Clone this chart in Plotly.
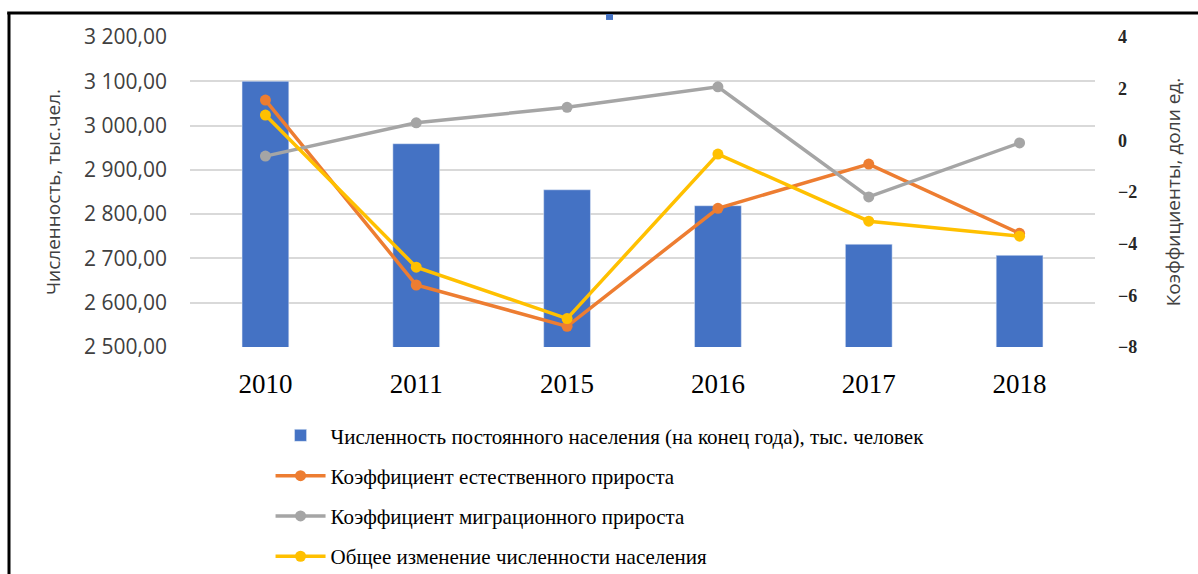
import plotly.graph_objects as go

years = ["2010", "2011", "2015", "2016", "2017", "2018"]
population = [3100, 2959, 2855, 2819, 2732, 2707]
natural = [1.56, -5.6, -7.2, -2.63, -0.92, -3.6]
migration = [-0.61, 0.68, 1.28, 2.07, -2.19, -0.1]
total = [0.98, -4.91, -6.9, -0.53, -3.13, -3.71]

names = [
    "Численность постоянного населения (на конец года), тыс. человек",
    "Коэффициент естественного прироста",
    "Коэффициент миграционного прироста",
    "Общее изменение численности населения",
]

fig = go.Figure()
fig.add_trace(go.Bar(x=years, y=population, name=names[0], marker_color="#4472C4",
                     width=0.31, legendgroup="a"))
fig.add_trace(go.Scatter(x=years, y=natural, name=names[1], yaxis="y2", mode="lines+markers",
                         line=dict(color="#ED7D31", width=3.5), marker=dict(size=11), legendgroup="b"))
fig.add_trace(go.Scatter(x=years, y=migration, name=names[2], yaxis="y2", mode="lines+markers",
                         line=dict(color="#A5A5A5", width=3.5), marker=dict(size=11), legendgroup="c"))
fig.add_trace(go.Scatter(x=years, y=total, name=names[3], yaxis="y2", mode="lines+markers",
                         line=dict(color="#FFC000", width=3.5), marker=dict(size=11), legendgroup="d"))

fig.update_layout(
    width=1198, height=574,
    margin=dict(l=190, r=103, t=37, b=227, autoexpand=False),
    paper_bgcolor="white", plot_bgcolor="white",
    separators=", ",
    showlegend=True,
    legend=dict(orientation="v", x=0.089, y=-0.22, xanchor="left", yanchor="top",
                font=dict(family="Liberation Serif", size=21, color="black"),
                tracegroupgap=10, itemwidth=50, traceorder="grouped"),
    xaxis=dict(type="category", showgrid=False, showline=False, zeroline=False,
               tickfont=dict(family="Liberation Serif", size=27, color="black"),
               ticklabelstandoff=18),
    yaxis=dict(range=[2500, 3200], dtick=100, tickformat=",.2f",
               showgrid=True, gridcolor="#d9d9d9", gridwidth=1.5, zeroline=False,
               tickfont=dict(family="Open Sans", size=21, color="#404040"),
               ticklabelstandoff=22,
               title=dict(text="Численность, тыс.чел.", standoff=18,
                          font=dict(family="Open Sans", size=19, color="#404040"))),
    yaxis2=dict(range=[-8, 4], dtick=2, overlaying="y", side="right",
                showgrid=False, zeroline=False,
                tickfont=dict(family="Liberation Serif", size=18, color="#262626", weight="bold"),
                ticklabelstandoff=22,
                title=dict(text="Коэффициенты, доли ед.", standoff=30,
                           font=dict(family="Open Sans", size=19, color="#404040"))),
    shapes=[
        dict(type="line", xref="paper", yref="paper", x0=-0.202, x1=1.12, y0=1.0774, y1=1.0774,
             line=dict(color="black", width=3)),
        dict(type="line", xref="paper", yref="paper", x0=-0.2, x1=-0.2, y0=1.0774, y1=-0.75,
             line=dict(color="black", width=3)),
        dict(type="rect", xref="paper", yref="paper", x0=0.4597, x1=0.4674, y0=1.055, y1=1.074,
             fillcolor="#4472C4", line=dict(width=0)),
    ],
)

fig.write_html("out.html")
